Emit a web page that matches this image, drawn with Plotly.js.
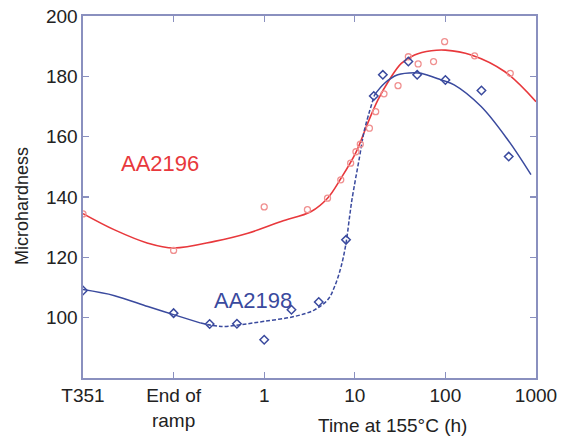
<!DOCTYPE html>
<html>
<head>
<meta charset="utf-8">
<script src="https://cdn.plot.ly/plotly-3.0.1.min.js"></script>
<style>html,body{margin:0;padding:0;background:#fff;}#chart{width:562px;height:438px;}</style>
</head>
<body>
<div id="chart"></div>
<script>
// Tick positions / labels (x axis is log hours; T351 and End of ramp placed at decades below 1 h)
const tickVals = [0.01, 0.1, 1, 10, 100, 1000];
const tickText = ['T351', 'End of<br>ramp', '1', '10', '100', '1000'];

// AA2196 measured points
const redX = [0.01, 0.1, 1, 3, 5, 7, 9, 10.3, 11.5, 14.5, 17, 21, 30, 39, 50, 74, 98, 210, 520];
const redY = [134.4, 122.3, 136.7, 135.8, 139.6, 145.7, 151.2, 155.0, 157.5, 162.8, 168.3, 174.2, 176.9, 186.5, 184.1, 184.9, 191.5, 186.8, 181.0];

// AA2198 measured points
const blueX = [0.01, 0.1, 0.25, 0.5, 1, 2, 4, 8, 16.2, 20.4, 39, 48.8, 100, 250, 500];
const blueY = [109.0, 101.5, 97.9, 98.0, 92.7, 102.6, 105.2, 125.8, 173.5, 180.5, 184.9, 180.5, 178.8, 175.3, 153.4];

// AA2196 fitted curve
const redCurveX = [0.01, 0.0223, 0.052, 0.1, 0.283, 0.66, 1.54, 3.3, 5, 7.07, 10.3, 13.9, 18, 24, 32.6, 45.6, 70, 100, 193, 450, 1000];
const redCurveY = [134.5, 129.1, 124.7, 123.1, 125.3, 128.0, 131.9, 135.2, 139.6, 146.3, 154.8, 164.5, 172.2, 178.8, 184.3, 187.1, 188.5, 188.7, 187.1, 181.6, 171.6];

// AA2198 fitted curve, split into solid / dashed / solid parts
const blueCurve1X = [0.01, 0.0223, 0.052, 0.1, 0.2];
const blueCurve1Y = [109.3, 107.3, 103.7, 101.0, 98.2];
const blueCurve2X = [0.2, 0.335, 0.557, 1, 2.16, 3.6, 5.05, 6.0, 7.07, 8.0, 8.76, 9.3, 11.3, 12.8, 16.5];
const blueCurve2Y = [98.2, 97.1, 97.7, 98.8, 100.4, 102.6, 106.0, 110.4, 117.0, 124.7, 133.5, 139.1, 153.4, 162.3, 173.8];
const blueCurve3X = [16.5, 21.3, 29.8, 45.6, 54, 90, 125, 248, 490, 880];
const blueCurve3Y = [173.8, 177.7, 180.5, 181.2, 181.0, 178.8, 177.2, 170.0, 158.9, 147.4];

const RED = '#e8383c', REDPT = '#f09090', BLUE = '#3a4a9e', AXIS = '#8a90bf';

const traces = [
  {x: redCurveX, y: redCurveY, mode: 'lines', line: {color: RED, width: 1.6, shape: 'spline'}, hoverinfo: 'skip'},
  {x: blueCurve1X, y: blueCurve1Y, mode: 'lines', line: {color: BLUE, width: 1.5, shape: 'spline'}, hoverinfo: 'skip'},
  {x: blueCurve2X, y: blueCurve2Y, mode: 'lines', line: {color: BLUE, width: 1.5, shape: 'spline', dash: '4px,2px'}, hoverinfo: 'skip'},
  {x: blueCurve3X, y: blueCurve3Y, mode: 'lines', line: {color: BLUE, width: 1.5, shape: 'spline'}, hoverinfo: 'skip'},
  {x: redX, y: redY, mode: 'markers', marker: {symbol: 'circle-open', size: 6, color: REDPT, line: {width: 1.3}}},
  {x: blueX, y: blueY, mode: 'markers', marker: {symbol: 'diamond-open', size: 6.5, color: BLUE, line: {width: 1.5}}}
];

const layout = {
  width: 562, height: 438,
  margin: {l: 83, r: 26, t: 16, b: 60},
  paper_bgcolor: '#fff', plot_bgcolor: '#fff',
  showlegend: false,
  font: {family: 'Liberation Sans, Arial, sans-serif', color: '#222', size: 19},
  xaxis: {
    type: 'log', range: [-2, 3],
    tickmode: 'array', tickvals: tickVals, ticktext: tickText,
    ticks: 'inside', ticklen: 6, tickcolor: AXIS, tickwidth: 1.3,
    showline: true, linecolor: AXIS, linewidth: 1.6, mirror: 'ticks',
    showgrid: false, zeroline: false,
    tickfont: {size: 19, color: '#222'}
  },
  yaxis: {
    range: [80, 200],
    tickvals: [100, 120, 140, 160, 180, 200],
    ticks: 'inside', ticklen: 6, tickcolor: AXIS, tickwidth: 1.3,
    showline: true, linecolor: AXIS, linewidth: 1.6, mirror: 'ticks',
    showgrid: false, zeroline: false,
    tickfont: {size: 19, color: '#222'}
  },
  annotations: [
    {xref: 'paper', yref: 'paper', x: (22 - 83) / 453, y: (378 - 206) / 362, text: 'Microhardness', showarrow: false,
     textangle: -90, xanchor: 'center', yanchor: 'middle', font: {size: 18, color: '#222'}},
    {xref: 'paper', yref: 'paper', x: 0.684, y: -0.13, text: 'Time at 155°C (h)', showarrow: false,
     xanchor: 'center', yanchor: 'middle', font: {size: 19, color: '#222'}},
    {xref: 'paper', yref: 'paper', x: (160 - 83) / 453, y: (378 - 163) / 362, text: 'AA2196', showarrow: false,
     xanchor: 'center', yanchor: 'middle', font: {size: 22, color: RED}},
    {xref: 'paper', yref: 'paper', x: (253 - 83) / 453, y: (378 - 300) / 362, text: 'AA2198', showarrow: false,
     xanchor: 'center', yanchor: 'middle', font: {size: 22, color: BLUE}}
  ]
};

Plotly.newPlot('chart', traces, layout, {staticPlot: true, displayModeBar: false});
</script>
</body>
</html>
